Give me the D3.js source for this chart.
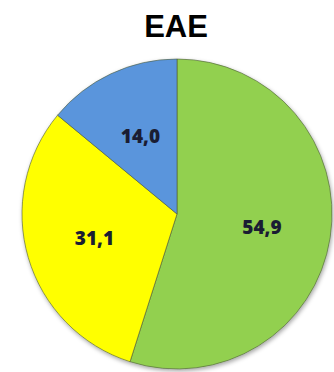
<!DOCTYPE html>
<html>
<head>
<meta charset="utf-8">
<script src="https://cdn.jsdelivr.net/npm/d3@7"></script>
<style>
  body { margin: 0; background: #fff; }
  svg { display: block; }
</style>
</head>
<body>
<div id="chart"></div>
<script>
const categories = ["A", "B", "C"];
const values = [54.9, 31.1, 14.0];
const labels = ["54,9", "31,1", "14,0"];
const colors = ["#92d050", "#ffff00", "#5a95dc"];
const title = "EAE";

const width = 334, height = 372;
const cx = 177, cy = 214, radius = 155;

const svg = d3.select("#chart").append("svg")
    .attr("width", width)
    .attr("height", height);

svg.append("text")
    .attr("x", 176)
    .attr("y", 37)
    .attr("text-anchor", "middle")
    .style("font-family", "Liberation Sans, Arial, sans-serif")
    .style("font-weight", "bold")
    .style("font-size", "31px")
    .attr("fill", "#000")
    .text(title);

const data = categories.map((c, i) => ({ key: c, value: values[i], label: labels[i], color: colors[i] }));

const pie = d3.pie().sort(null).value(d => d.value);
const arc = d3.arc().innerRadius(0).outerRadius(radius);
const labelArc = d3.arc().innerRadius(86).outerRadius(86);

// soft shadow under the pie
const defs = svg.append("defs");
const f = defs.append("filter").attr("id", "shadow")
    .attr("x", "-10%").attr("y", "-10%").attr("width", "120%").attr("height", "120%");
f.append("feDropShadow").attr("dx", 1).attr("dy", 2).attr("stdDeviation", 2)
    .attr("flood-color", "#000").attr("flood-opacity", 0.35);

const g = svg.append("g").attr("transform", `translate(${cx}, ${cy})`);

g.append("g").attr("filter", "url(#shadow)")
  .selectAll("path")
  .data(pie(data))
  .join("path")
    .attr("d", arc)
    .attr("fill", d => d.data.color)
    .attr("stroke", "#4d5c3a")
    .attr("stroke-opacity", 0.6)
    .attr("stroke-width", 1);

g.selectAll("text.lbl")
  .data(pie(data))
  .join("text")
    .attr("class", "lbl")
    .attr("transform", d => `translate(${labelArc.centroid(d)})`)
    .attr("text-anchor", "middle")
    .attr("dy", "0.35em")
    .style("font-family", "'Open Sans', sans-serif")
    .style("font-weight", "800")
    .style("font-size", "19px")
    .attr("fill", "#1a1d33")
    .text(d => d.data.label);
</script>
</body>
</html>
